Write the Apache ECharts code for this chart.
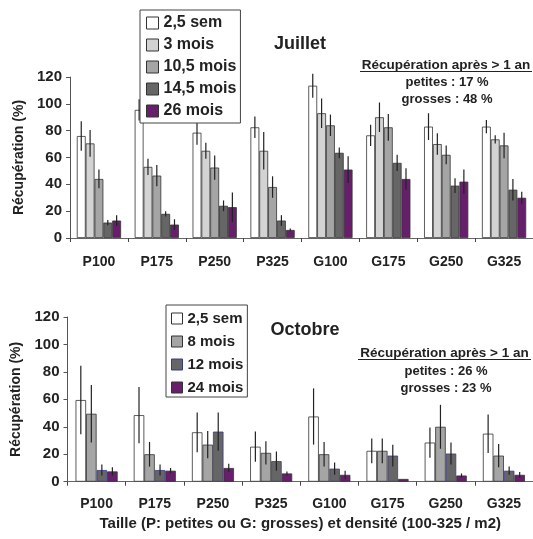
<!DOCTYPE html>
<html>
<head>
<meta charset="utf-8">
<script src="https://cdn.jsdelivr.net/npm/echarts@6/dist/echarts.min.js"></script>
<style>
html,body{margin:0;padding:0;background:#fff;}
#chart{width:533px;height:539px;}
</style>
</head>
<body>
<div id="chart"></div>
<script>
// ---- Data ----
const categories = ['P100','P175','P250','P325','G100','G175','G250','G325'];
const yTicks = [0, 20, 40, 60, 80, 100, 120];

// Juillet
const julNames = ['2,5 sem','3 mois','10,5 mois','14,5 mois','26 mois'];
const jul_25sem  = [76, 95.5, 78.5, 82.5, 113.5, 76.5, 83, 83];
const jul_3mois  = [70.5, 53, 65, 65, 93, 90, 70, 73.5];
const jul_105mois= [44, 46.5, 52.5, 38, 84, 82.5, 62, 69];
const jul_145mois= [11.5, 18, 24, 13, 63.5, 56, 39, 36];
const jul_26mois = [13, 10, 23, 6, 51, 44, 42, 30];
const jul_25sem_err  = [11, 8, 9, 8, 9, 8, 10, 5];
const jul_3mois_err  = [10, 6, 6, 14, 11, 11, 8, 3];
const jul_105mois_err= [7, 8, 9, 8, 8, 10, 7, 9.5];
const jul_145mois_err= [2, 2, 4, 4, 4, 6, 5.5, 8];
const jul_26mois_err = [4, 4, 11, 1, 10, 8, 9, 4.5];

// Octobre
const octNames = ['2,5 sem','8 mois','12 mois','24 mois'];
const oct_25sem  = [59.5, 48.5, 36, 25.5, 47.5, 22.5, 28.5, 35];
const oct_8mois  = [49.5, 20, 27, 21, 20, 22.5, 40, 19];
const oct_12mois = [8.5, 8.5, 36.5, 15, 9.5, 19, 20.5, 8];
const oct_24mois = [7.5, 8, 10, 6, 5, 2, 4.5, 5];
const oct_25sem_err  = [25, 20.5, 14.5, 11, 20.5, 9, 11, 14];
const oct_8mois_err  = [21, 9, 10, 8.5, 9, 9, 16, 8.5];
const oct_12mois_err = [4, 4, 14, 7, 4.5, 8, 8, 3];
const oct_24mois_err = [3, 2, 3, 1.5, 3, 0, 1.5, 2];

const julNote = ['Récupération après > 1 an', 'petites : 17 %', 'grosses : 48 %'];
const octNote = ['Récupération après > 1 an', 'petites : 26 %', 'grosses : 23 %'];

// ---- Styles ----
const WHITE = '#ffffff', LGRAY = '#d3d3d3', MGRAY = '#a5a5a5', DGRAY = '#666666', PURPLE = '#671f6c';
const BORDER = '#333333', NAVY = '#3b3b86';
const FONT = 'Liberation Sans, Arial, sans-serif';

const julVals = [jul_25sem, jul_3mois, jul_105mois, jul_145mois, jul_26mois];
const julErrs = [jul_25sem_err, jul_3mois_err, jul_105mois_err, jul_145mois_err, jul_26mois_err];
const julColors = [WHITE, LGRAY, MGRAY, DGRAY, PURPLE];
const julBorders = [BORDER, BORDER, BORDER, BORDER, BORDER];

const octVals = [oct_25sem, oct_8mois, oct_12mois, oct_24mois];
const octErrs = [oct_25sem_err, oct_8mois_err, oct_12mois_err, oct_24mois_err];
const octColors = [WHITE, MGRAY, DGRAY, PURPLE];
const octBorders = [BORDER, BORDER, NAVY, BORDER];

const GAP_TOP = 0.236, GAP_BOT = 0.277;

function errSeries(gridIdx, vals, errs, i, n, gap) {
  return {
    type: 'custom',
    xAxisIndex: gridIdx, yAxisIndex: gridIdx,
    z: 5, silent: true, clip: false,
    encode: {x: 0, y: 1},
    data: vals.map((v, k) => [k, v, errs[k]]),
    renderItem: function (params, api) {
      const c = api.value(0), v = api.value(1), e = api.value(2);
      if (!e) return null;
      const p = api.coord([c, v]);
      const hi = api.coord([c, v + e]);
      const lo = api.coord([c, Math.max(0, v - e)]);
      const bw = api.size([1, 0])[0];
      const group = bw * (1 - gap);
      const barW = group / n;
      const x = p[0] - group / 2 + barW * (i + 0.5);
      return {type: 'line', shape: {x1: x, y1: hi[1], x2: x, y2: lo[1]},
              style: {stroke: '#222', lineWidth: 1.2}};
    }
  };
}

const series = [];
julNames.forEach((name, i) => {
  series.push({
    name: name, type: 'bar', xAxisIndex: 0, yAxisIndex: 0,
    data: julVals[i], barGap: '0%', barCategoryGap: (GAP_TOP * 100) + '%',
    itemStyle: {color: julColors[i], borderColor: julBorders[i], borderWidth: 0.8}
  });
});
julNames.forEach((name, i) => series.push(errSeries(0, julVals[i], julErrs[i], i, julNames.length, GAP_TOP)));
octNames.forEach((name, i) => {
  series.push({
    name: name, type: 'bar', xAxisIndex: 1, yAxisIndex: 1,
    data: octVals[i], barGap: '0%', barCategoryGap: (GAP_BOT * 100) + '%',
    itemStyle: {color: octColors[i], borderColor: octBorders[i], borderWidth: 0.8}
  });
});
octNames.forEach((name, i) => series.push(errSeries(1, octVals[i], octErrs[i], i, octNames.length, GAP_BOT)));

function yAxis(gridIdx) {
  return {
    type: 'value', gridIndex: gridIdx, min: yTicks[0], max: yTicks[yTicks.length - 1], interval: 20,
    name: 'Récupération (%)', nameLocation: 'middle', nameGap: 44,
    nameTextStyle: {fontFamily: FONT, fontWeight: 'bold', fontSize: 14, color: '#222'},
    splitLine: {show: false},
    axisLine: {show: true, lineStyle: {color: '#555', width: 1}},
    axisTick: {show: true, length: 4, lineStyle: {color: '#555'}},
    axisLabel: {fontFamily: FONT, fontWeight: 'bold', fontSize: 15, color: '#222', margin: 8}
  };
}
function xAxis(gridIdx, margin, withName) {
  const ax = {
    type: 'category', gridIndex: gridIdx, data: categories,
    axisLine: {show: true, lineStyle: {color: '#666', width: 1}},
    axisTick: {show: true, length: 4, lineStyle: {color: '#444'}},
    axisLabel: {fontFamily: FONT, fontWeight: 'bold', fontSize: 14, color: '#222', margin: margin}
  };
  if (withName) {
    ax.name = 'Taille (P: petites ou G: grosses) et densité (100-325 / m2)';
    ax.nameLocation = 'middle';
    ax.nameGap = 35;
    ax.nameTextStyle = {fontFamily: FONT, fontWeight: 'bold', fontSize: 15, color: '#222'};
  }
  return ax;
}

function txt(x, y, text, size) {
  return {type: 'text', x: x, y: y, z: 10,
          style: {text: text, fontFamily: FONT, fontWeight: 'bold', fontSize: size, fill: '#222',
                  textAlign: 'center', textVerticalAlign: 'middle'}};
}

const option = {
  animation: false,
  backgroundColor: '#fff',
  grid: [
    {left: 70, top: 77, width: 464, height: 161},
    {left: 67.5, top: 317, width: 471, height: 164.7}
  ],
  xAxis: [xAxis(0, 17, false), xAxis(1, 15.5, true)],
  yAxis: [yAxis(0), yAxis(1)],
  legend: [
    {
      orient: 'vertical', left: 140, top: 10, padding: [5, 4, 4, 6],
      itemWidth: 12, itemHeight: 12, itemGap: 6, icon: 'rect',
      backgroundColor: '#fff', borderColor: '#444', borderWidth: 1, z: 8,
      selectedMode: false,
      textStyle: {fontFamily: FONT, fontWeight: 'bold', fontSize: 16, color: '#222', lineHeight: 16},
      data: julNames.map((n, i) => ({name: n, itemStyle: {color: julColors[i], borderColor: julBorders[i], borderWidth: 1}}))
    },
    {
      orient: 'vertical', left: 166, top: 305, padding: [6, 4, 2, 5],
      itemWidth: 11, itemHeight: 11, itemGap: 8, icon: 'rect',
      backgroundColor: '#fff', borderColor: '#444', borderWidth: 1, z: 8,
      selectedMode: false,
      textStyle: {fontFamily: FONT, fontWeight: 'bold', fontSize: 15, color: '#222', lineHeight: 15},
      data: octNames.map((n, i) => ({name: n, itemStyle: {color: octColors[i], borderColor: octBorders[i], borderWidth: 1}}))
    }
  ],
  graphic: [
    txt(300, 44, 'Juillet', 18),
    txt(446, 65, julNote[0], 13.5),
    {type: 'line', z: 10, shape: {x1: 360, y1: 71.5, x2: 532, y2: 71.5}, style: {stroke: '#222', lineWidth: 1}},
    txt(447, 82.5, julNote[1], 13),
    txt(447, 99.5, julNote[2], 13),
    txt(305, 330, 'Octobre', 18),
    txt(444.5, 353.5, octNote[0], 13.5),
    {type: 'line', z: 10, shape: {x1: 358, y1: 359.5, x2: 531, y2: 359.5}, style: {stroke: '#222', lineWidth: 1}},
    txt(446, 371, octNote[1], 13),
    txt(446, 388.5, octNote[2], 13)
  ],
  series: series
};

const chart = echarts.init(document.getElementById('chart'), null, {renderer: 'canvas'});
chart.setOption(option);
</script>
</body>
</html>
